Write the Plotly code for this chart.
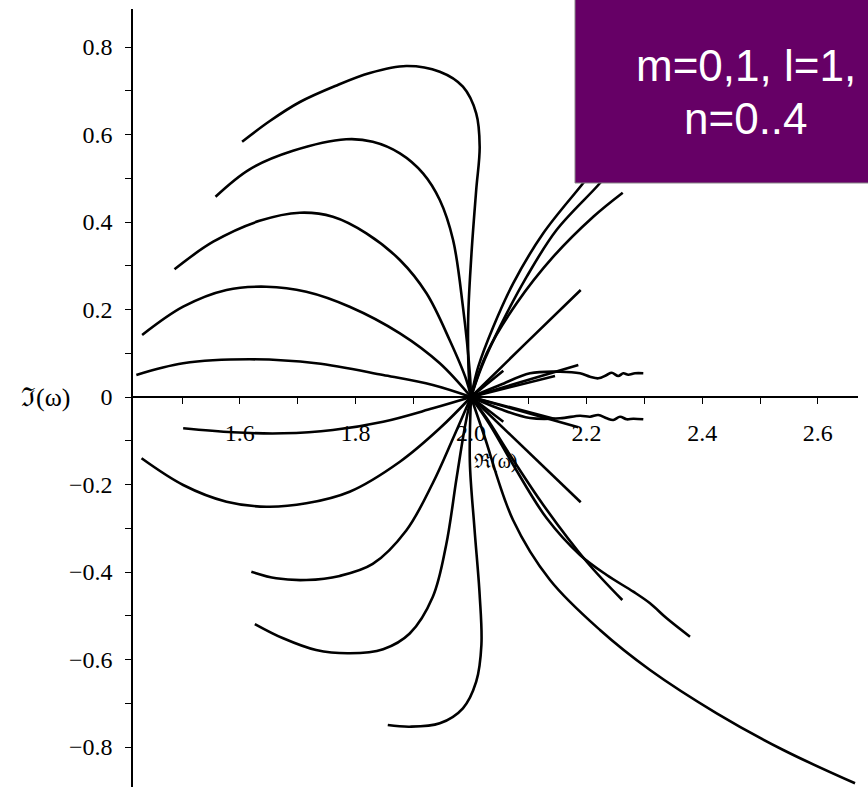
import plotly.graph_objects as go

# ---- data: branches of omega in the complex plane (Re, Im) ----
u1_re = [1.604, 1.652, 1.704, 1.765, 1.825, 1.888, 1.946, 1.986, 2.009, 2.015, 2.009, 2.0005, 1.995, 1.998, 2.0]
u1_im = [0.5835, 0.6309, 0.6743, 0.7109, 0.7406, 0.7566, 0.7435, 0.7093, 0.6485, 0.5721, 0.4731, 0.3207, 0.169, 0.016, 0.0]
u2_re = [1.558, 1.617, 1.692, 1.784, 1.830, 1.877, 1.917, 1.946, 1.969, 1.986, 1.998, 2.0]
u2_im = [0.4578, 0.5204, 0.5626, 0.589, 0.5835, 0.557, 0.5113, 0.4503, 0.3589, 0.2064, 0.0542, 0.0]
u3_re = [1.487, 1.554, 1.634, 1.704, 1.761, 1.819, 1.877, 1.923, 1.963, 1.992, 2.0]
u3_im = [0.2919, 0.3549, 0.4026, 0.4213, 0.4121, 0.3742, 0.3131, 0.237, 0.1303, 0.0389, 0.0]
u4_re = [1.431, 1.502, 1.577, 1.646, 1.715, 1.790, 1.877, 1.946, 2.0]
u4_im = [0.1417, 0.2064, 0.2446, 0.2521, 0.2407, 0.2064, 0.1455, 0.077, 0.0]
u5_re = [1.421, 1.502, 1.617, 1.732, 1.848, 1.934, 2.0]
u5_im = [0.0503, 0.077, 0.0862, 0.077, 0.0503, 0.0274, 0.0]

l5_re = [1.502, 1.588, 1.675, 1.761, 1.848, 1.934, 2.0]
l5_im = [-0.0715, -0.0807, -0.083, -0.0754, -0.0565, -0.0258, 0.0]
l4_re = [1.430, 1.502, 1.577, 1.646, 1.715, 1.790, 1.877, 1.946, 2.0]
l4_im = [-0.1401, -0.2011, -0.2393, -0.2507, -0.243, -0.2165, -0.1479, -0.0715, 0.0]
l3_re = [1.620, 1.663, 1.715, 1.773, 1.830, 1.888, 1.934, 1.969, 2.0]
l3_im = [-0.3993, -0.4144, -0.4183, -0.4089, -0.3815, -0.3051, -0.1966, -0.0944, 0.0]
l2_re = [1.626, 1.675, 1.732, 1.790, 1.848, 1.894, 1.934, 1.957, 1.975, 1.989, 2.0]
l2_im = [-0.5189, -0.5515, -0.5783, -0.5858, -0.5764, -0.5405, -0.4566, -0.3383, -0.1858, -0.0715, 0.0]
l1_re = [1.856, 1.894, 1.946, 1.986, 2.009, 2.018, 2.015, 2.006, 1.998, 2.0]
l1_im = [-0.7497, -0.7536, -0.7458, -0.7115, -0.6507, -0.5669, -0.4526, -0.3001, -0.1479, 0.0]

r1_re = [2.0, 2.0126, 2.0386, 2.073, 2.125, 2.1915, 2.226]
r1_im = [0.0, 0.0693, 0.1607, 0.2599, 0.3742, 0.4846, 0.5417]
r2_re = [2.0, 2.0185, 2.0502, 2.0964, 2.148, 2.2202, 2.249]
r2_im = [0.0, 0.0693, 0.1607, 0.275, 0.3817, 0.4846, 0.530]
r3_re = [2.0, 2.0272, 2.079, 2.1424, 2.2116, 2.2625]
r3_im = [0.0, 0.0999, 0.2142, 0.3207, 0.4121, 0.467]
r4_re = [2.0, 2.0946, 2.1898]
r4_im = [0.0, 0.1227, 0.2446]
r5_re = [2.0, 2.1857]
r5_im = [0.0, 0.0731]
r6_re = [2.0, 2.0502, 2.1021, 2.154, 2.1886, 2.2059, 2.2202, 2.2348, 2.2434, 2.2548, 2.2635, 2.2721, 2.2837, 2.2981]
r6_im = [0.0, 0.0274, 0.0542, 0.0578, 0.0542, 0.0464, 0.0427, 0.0503, 0.0555, 0.048, 0.0542, 0.051, 0.0542, 0.0542]
r7_re = [2.0, 2.1453]
r7_im = [0.0, 0.048]
r8_re = [2.0, 2.0559]
r8_im = [0.0, 0.0601]

d1_re = [2.0, 2.1898]
d1_im = [0.0, -0.2407]
d2_re = [2.0, 2.0272, 2.0675, 2.1251, 2.2002, 2.2618]
d2_im = [0.0, -0.0487, -0.1326, -0.2469, -0.3765, -0.464]
d3_re = [2.0, 2.0329, 2.0732, 2.131, 2.1886, 2.2348, 2.2808, 2.3097, 2.3386, 2.3789]
d3_im = [0.0, -0.064, -0.1554, -0.2773, -0.3611, -0.4069, -0.445, -0.4715, -0.5058, -0.5479]
d4_re = [2.0, 2.0225, 2.0727, 2.1367, 2.2232, 2.3097, 2.4251, 2.5403, 2.6644]
d4_im = [0.0, -0.0869, -0.2811, -0.4183, -0.5326, -0.624, -0.723, -0.8069, -0.883]
d5_re = [2.0, 2.1857]
d5_im = [0.0, -0.0693]
d6_re = [2.0, 2.0502, 2.1021, 2.154, 2.1886, 2.2059, 2.2202, 2.2348, 2.2462, 2.2578, 2.2694, 2.2808, 2.2981]
d6_im = [0.0, -0.0274, -0.048, -0.0487, -0.0427, -0.045, -0.0411, -0.0487, -0.0526, -0.045, -0.051, -0.0496, -0.051]
d7_re = [2.0, 2.1453]
d7_im = [0.0, -0.0503]
d8_re = [2.0, 2.0559]
d8_im = [0.0, -0.0565]

x_ticks = [1.5, 1.6, 1.7, 1.8, 1.9, 2.0, 2.1, 2.2, 2.3, 2.4, 2.5, 2.6]
x_labels = ["", "1.6", "", "1.8", "", "2.0", "", "2.2", "", "2.4", "", "2.6"]
y_ticks = [-0.8, -0.6, -0.4, -0.2, 0.0, 0.2, 0.4, 0.6, 0.8]
y_labels = ["\u22120.8", "\u22120.6", "\u22120.4", "\u22120.2", "0", "0.2", "0.4", "0.6", "0.8"]
legend_lines = ["m=0,1, l=1,", "n=0..4"]
x_title = "\u211c(\u03c9)"
y_title = "\u2111(\u03c9)"

branches = [
    (u1_re, u1_im), (u2_re, u2_im), (u3_re, u3_im), (u4_re, u4_im), (u5_re, u5_im),
    (l1_re, l1_im), (l2_re, l2_im), (l3_re, l3_im), (l4_re, l4_im), (l5_re, l5_im),
    (r1_re, r1_im), (r2_re, r2_im), (r3_re, r3_im), (r4_re, r4_im), (r5_re, r5_im),
    (r6_re, r6_im), (r7_re, r7_im), (r8_re, r8_im),
    (d1_re, d1_im), (d2_re, d2_im), (d3_re, d3_im), (d4_re, d4_im), (d5_re, d5_im),
    (d6_re, d6_im), (d7_re, d7_im), (d8_re, d8_im),
]

fig = go.Figure()
for re_, im_ in branches:
    fig.add_trace(go.Scatter(x=re_, y=im_, mode="lines",
                             line=dict(color="black", width=2.6, shape="spline", smoothing=1.0),
                             showlegend=False, hoverinfo="skip"))

W, H = 868, 787
ml, mr, mt, mb = 133, 10, 9, 0
px_per_x = 578.0
px_per_y = 437.5
x0_px = 471 - ml  # pixel of Re=2.0 inside plot area
xmin = 2.0 - x0_px / px_per_x
xmax = xmin + (W - ml - mr) / px_per_x
ymax = (397 - mt) / px_per_y
ymin = ymax - (H - mt - mb) / px_per_y
zero_pos = (0 - ymin) / (ymax - ymin)

tick_font = dict(family="Liberation Serif", size=24, color="black")

fig.update_layout(
    width=W, height=H,
    margin=dict(l=ml, r=mr, t=mt, b=mb),
    plot_bgcolor="white", paper_bgcolor="white",
    xaxis=dict(range=[xmin, xmax], showgrid=False, zeroline=False,
               showline=True, linecolor="black", linewidth=1.5,
               anchor="free", position=zero_pos, side="bottom",
               tickmode="array", tickvals=x_ticks, ticktext=x_labels,
               ticks="outside", ticklen=6, tickwidth=1.2, tickcolor="black",
               ticklabelstandoff=8, tickfont=tick_font, layer="below traces"),
    yaxis=dict(range=[ymin, ymax], showgrid=False, zeroline=False,
               showline=True, linecolor="black", linewidth=1.5,
               tickmode="array", tickvals=y_ticks, ticktext=y_labels,
               ticks="outside", ticklen=6, tickwidth=1.2, tickcolor="black",
               ticklabelstandoff=8, tickfont=tick_font,
               minor=dict(ticks="outside", ticklen=6, tickwidth=1.2, tickcolor="black", dtick=0.1, tick0=0)),
)

# purple label box
fig.add_shape(type="rect", xref="paper", yref="paper",
              x0=(575 - ml) / (W - ml - mr), x1=(925 - ml) / (W - ml - mr),
              y0=(H - mb - 183) / (H - mt - mb), y1=(H - mb + 5) / (H - mt - mb),
              fillcolor="#660066", line=dict(color="#888888", width=1), layer="above")
for i, txt in enumerate(legend_lines):
    yc = [65, 119][i]
    fig.add_annotation(text=txt, xref="paper", yref="paper",
                       x=(746 - ml) / (W - ml - mr), y=(H - mb - yc) / (H - mt - mb),
                       showarrow=False, xanchor="center", yanchor="middle",
                       font=dict(family="Liberation Sans", size=44, color="white"))

fig.add_annotation(text=y_title, xref="paper", yref="paper",
                   x=(45 - ml) / (W - ml - mr), y=zero_pos, showarrow=False,
                   xanchor="center", yanchor="middle",
                   font=dict(family="Liberation Serif", size=26, color="black"))
fig.add_annotation(text=x_title, xref="paper", yref="paper",
                   x=(495 - ml) / (W - ml - mr), y=(H - mb - 462) / (H - mt - mb), showarrow=False,
                   xanchor="center", yanchor="middle",
                   font=dict(family="Liberation Serif", size=20, color="black"))

fig.write_html("out.html")
